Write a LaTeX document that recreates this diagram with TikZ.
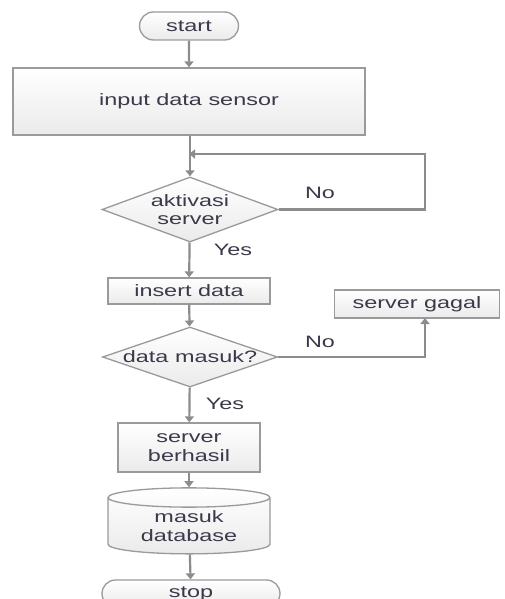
\documentclass[tikz,border=0pt]{standalone}
\usepackage{fontspec}
\setmainfont{Liberation Sans}[FakeStretch=1.42]
\usepackage{xcolor}
\usepackage{tikz}
\usetikzlibrary{shapes.geometric,shapes.misc,arrows.meta}
\definecolor{linegray}{HTML}{8C8C8C}
\definecolor{boxgray}{HTML}{9A9A9A}
\definecolor{txt}{HTML}{3A3A4A}
\tikzset{
  box/.style={draw=boxgray, line width=1.3pt, top color=white, bottom color=black!8, text=txt, align=center, inner sep=0pt},
  term/.style={box, rounded rectangle},
  decide/.style={box, diamond, aspect=2.75},
  flow/.style={draw=linegray, line width=2.2pt, -{Triangle[width=9pt,length=6pt]}},
  lbl/.style={text=txt}
}
\begin{document}
\begin{tikzpicture}[x=1pt,y=-1pt,font=\fontsize{16.5}{18.5}\selectfont]
\useasboundingbox (0,0) rectangle (504,599);
\node[term, minimum width=99pt, minimum height=28pt] (a) at (189,26) {start};
\node[box, minimum width=352pt, minimum height=67pt] (b) at (189,101.5) {input data sensor};
\node[decide, inner xsep=-6pt, inner ysep=-4pt, minimum width=176pt, minimum height=65pt] (c) at (190,209.5) {aktivasi\\server};
\node[box, minimum width=162pt, minimum height=26pt] (d) at (189,291) {insert data};
\node[decide, inner xsep=-2pt, minimum width=175pt, minimum height=60pt] (e) at (190,357) {data masuk?};
\node[box, minimum width=165pt, minimum height=28pt] (f) at (417,304) {server gagal};
\node[box, minimum width=142pt, minimum height=49pt] (g) at (189,447.5) {server\\berhasil};
\node[box, cylinder, shape border rotate=90, aspect=0.2, minimum width=162pt, minimum height=66pt] (h) at (189,526) {masuk\\database};
\node[term, minimum width=178pt, minimum height=27pt] (i) at (191,593.5) {stop};
\coordinate (r1) at (425,209.5);
\coordinate (r2) at (425,154);
\coordinate (m) at (189,154);
\coordinate (r3) at (425,357);
\coordinate (r4) at (425,318);
\draw[flow] (a) -- (b);
\draw[flow] (b.south -| c.north) -- (c.north);
\draw[flow] (c.east) -- (r1) -- (r2) -- (m);
\draw[flow] (c) -- (d);
\draw[flow] (d) -- (e);
\draw[flow] (e.east) -- (r3) -- (r4);
\draw[flow] (e) -- (g);
\draw[flow] (g) -- (h);
\draw[flow] (h) -- (i);
\node[lbl] (n1) at (320,193) {No};
\node[lbl] (y1) at (233,250) {Yes};
\node[lbl] (n2) at (320,342) {No};
\node[lbl] (y2) at (225,404) {Yes};
\end{tikzpicture}
\end{document}
